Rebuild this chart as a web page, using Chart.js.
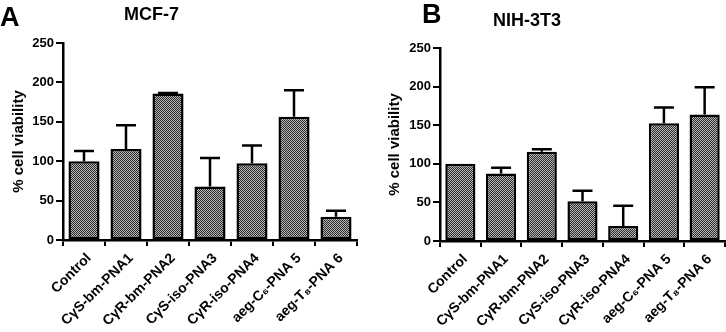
<!DOCTYPE html>
<html>
<head>
<meta charset="utf-8">
<script src="https://cdn.jsdelivr.net/npm/chart.js@4/dist/chart.umd.min.js"></script>
<style>
  html, body { margin: 0; padding: 0; background: #fff; }
  body { width: 726px; height: 332px; position: relative; overflow: hidden; font-family: "Liberation Sans", Arial, sans-serif; }
  .panel { position: absolute; top: 0; width: 363px; height: 332px; }
  .lbl { position: absolute; font-weight: bold; line-height: 1; color: #000; white-space: nowrap; }
</style>
</head>
<body>
<div class="panel" style="left:0"><canvas id="c1" width="363" height="332"></canvas></div>
<div class="panel" style="left:363px"><canvas id="c2" width="363" height="332"></canvas></div>
<div class="lbl" style="left:0px;top:4px;font-size:27px">A</div>
<div class="lbl" style="left:124px;top:5px;font-size:18px">MCF-7</div>
<div class="lbl" style="left:422px;top:1px;font-size:27px">B</div>
<div class="lbl" style="left:493px;top:11px;font-size:18px">NIH-3T3</div>
<script>
const categories = ["Control", "C\u03B3S-bm-PNA1", "C\u03B3R-bm-PNA2", "C\u03B3S-iso-PNA3", "C\u03B3R-iso-PNA4", "aeg-C\u2086-PNA 5", "aeg-T\u2088-PNA 6"];
const mcf7Means = [100, 115.5, 186, 68, 97.5, 156.5, 29.5];
const mcf7Errors = [13, 30, 0.5, 36, 22.5, 33.5, 7.5];
const nihMeans = [100, 87.5, 115.5, 51.5, 19.5, 152.5, 164];
const nihErrors = [0, 7.5, 3.5, 13.5, 26, 20.5, 35];
const yTicks = [0, 50, 100, 150, 200, 250];

const FONT = '"Liberation Sans", Arial, sans-serif';

function makePattern() {
  const pc = document.createElement('canvas');
  pc.width = 2; pc.height = 2;
  const p = pc.getContext('2d');
  p.fillStyle = '#b4b4b4'; p.fillRect(0, 0, 2, 2);
  p.fillStyle = '#2e2e2e'; p.fillRect(0, 0, 1, 1); p.fillRect(1, 1, 1, 1);
  return document.createElement('canvas').getContext('2d').createPattern(pc, 'repeat');
}

const errorBars = {
  id: 'errorBars',
  afterDatasetsDraw(chart) {
    const ctx = chart.ctx;
    const ds = chart.data.datasets[0];
    const meta = chart.getDatasetMeta(0);
    const ys = chart.scales.y;
    ctx.save();
    ctx.strokeStyle = '#000';
    ctx.lineWidth = 2.5;
    ctx.lineCap = 'butt';
    meta.data.forEach((bar, i) => {
      const e = ds.errors[i];
      if (!e) return;
      const top = ys.getPixelForValue(ds.data[i] + e);
      const base = bar.y;
      ctx.beginPath();
      ctx.moveTo(bar.x, base);
      ctx.lineTo(bar.x, top);
      ctx.moveTo(bar.x - 10, top);
      ctx.lineTo(bar.x + 10, top);
      ctx.stroke();
    });
    ctx.restore();
  }
};

// shift rotated category labels slightly right, as in the reference
const labelShift = {
  id: 'labelShift',
  beforeDraw(chart) {
    const items = chart.scales.x.getLabelItems();
    items.forEach(it => {
      if (!it._shifted && it.options && it.options.translation) {
        it.options.translation = [it.options.translation[0] + 5, it.options.translation[1]];
        it._shifted = true;
      }
    });
  }
};

function build(id, means, errors, yWidth, xHeight, padTop, padRight, titlePad) {
  const ctx = document.getElementById(id).getContext('2d');
  return new Chart(ctx, {
    type: 'bar',
    data: {
      labels: categories,
      datasets: [{
        data: means,
        errors: errors,
        backgroundColor: makePattern(),
        borderColor: '#000',
        borderWidth: 2.5,
        borderSkipped: false,
        barPercentage: 0.74,
        categoryPercentage: 1.0
      }]
    },
    options: {
      responsive: false,
      animation: false,
      devicePixelRatio: 1,
      layout: { padding: { top: padTop, right: padRight, left: 0, bottom: 0 } },
      plugins: { legend: { display: false }, tooltip: { enabled: false }, title: { display: false } },
      scales: {
        x: {
          grid: { display: true, drawOnChartArea: false, drawTicks: true, tickLength: 6, color: '#000', lineWidth: 2 },
          border: { display: true, color: '#000', width: 2.5 },
          ticks: { color: '#000', font: { family: FONT, size: 14, weight: 'bold' }, minRotation: 45, maxRotation: 45, autoSkip: false, padding: 4 },
          afterFit(s) { s.height = xHeight; }
        },
        y: {
          min: 0, max: 250,
          afterBuildTicks(s) { s.ticks = yTicks.map(v => ({ value: v })); },
          grid: { display: true, drawOnChartArea: false, drawTicks: true, tickLength: 7, color: '#000', lineWidth: 2 },
          border: { display: true, color: '#000', width: 2.5 },
          ticks: { color: '#000', font: { family: FONT, size: 13, weight: 'bold' }, padding: 2 },
          title: { display: true, text: '% cell viability', color: '#000', font: { family: FONT, size: 15, weight: 'bold' }, padding: { top: titlePad, bottom: 0 } },
          afterFit(s) { s.width = yWidth; }
        }
      }
    },
    plugins: [errorBars, labelShift]
  });
}

build('c1', mcf7Means, mcf7Errors, 63, 92, 43, 6, 10);
build('c2', nihMeans, nihErrors, 77, 91, 48, 1, 23);
</script>
</body>
</html>
